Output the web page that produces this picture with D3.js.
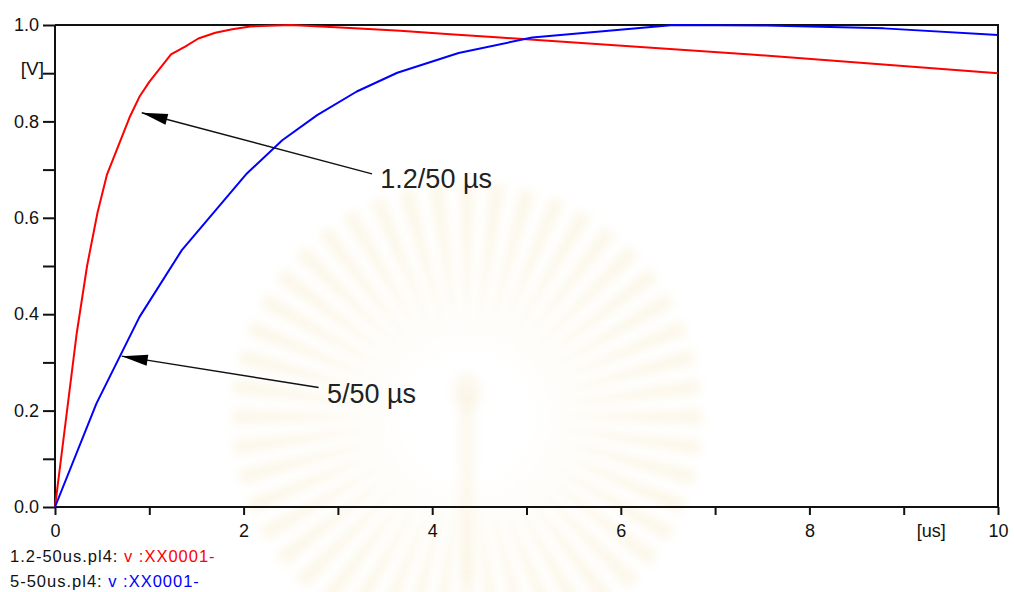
<!DOCTYPE html>
<html>
<head>
<meta charset="utf-8">
<script src="https://cdn.jsdelivr.net/npm/d3@7"></script>
<style>
  html, body { margin: 0; padding: 0; background: #fff; }
  svg { display: block; font-family: "Liberation Sans", Arial, sans-serif; }
</style>
</head>
<body>
<svg id="chart" width="1014" height="592"></svg>
<script>
// Lightning impulse waveforms, time in microseconds, voltage normalised
const redTime  = [0, 0.23, 0.34, 0.45, 0.55, 0.79, 0.895, 1.0, 1.23, 1.38, 1.52, 1.70, 1.88, 2.07, 2.5, 3.13, 3.66, 4.19, 4.72, 7.38, 10];
const redVolt  = [0, 0.36, 0.50, 0.61, 0.689, 0.808, 0.851, 0.882, 0.939, 0.955, 0.972, 0.984, 0.991, 0.997, 1.0, 0.994, 0.988, 0.981, 0.974, 0.939, 0.900];
const blueTime = [0, 0.44, 0.895, 1.345, 2.035, 2.41, 2.78, 3.2, 3.63, 4.28, 5.06, 6.56, 7.55, 8.79, 10];
const blueVolt = [0, 0.215, 0.394, 0.533, 0.692, 0.761, 0.813, 0.862, 0.901, 0.942, 0.974, 1.0, 0.999, 0.993, 0.979];

const yTicks = [0, 0.1, 0.2, 0.3, 0.4, 0.5, 0.6, 0.7, 0.8, 0.9, 1.0];
const yTickLabels = ["0.0", "", "0.2", "", "0.4", "", "0.6", "", "0.8", "[V]", "1.0"];
const xTicks = [0, 1, 2, 3, 4, 5, 6, 7, 8, 9, 10];
const xTickLabels = ["0", "", "2", "", "4", "", "6", "", "8", "[us]", "10"];

const legendFiles = ["1.2-50us.pl4:", "5-50us.pl4:"];
const legendVars  = ["v :XX0001-", "v :XX0001-"];
const seriesColors = ["#ff0000", "#0000ff"];

// Annotation arrows: tip and tail in data units, label at the tail
const annotations = [
  { text: "1.2/50 \u00b5s", tip: [0.92, 0.818], tail: [3.362, 0.691], label: [3.45, 0.6625] },
  { text: "5/50 \u00b5s",   tip: [0.708, 0.313], tail: [2.795, 0.248], label: [2.884, 0.215] }
];

const svg = d3.select("#chart");
const plot = { left: 55, right: 998, top: 25, bottom: 507 };

const x = d3.scaleLinear().domain([0, 10]).range([plot.left, plot.right]);
const y = d3.scaleLinear().domain([0, 1]).range([plot.bottom, plot.top]);

// Faint emblem watermark behind the plot
const defs = svg.append("defs");
defs.append("filter").attr("id", "soft")
  .attr("x", "-50%").attr("y", "-50%").attr("width", "200%").attr("height", "200%")
  .append("feGaussianBlur").attr("stdDeviation", 5);
const wm = svg.append("g").attr("transform", "translate(467,417)")
  .attr("filter", "url(#soft)").attr("opacity", 0.3);
const rayAngles = d3.range(0, 360, 7.5);
wm.selectAll("path.ray").data(rayAngles).join("path")
  .attr("class", "ray")
  .attr("transform", a => `rotate(${a})`)
  .attr("d", "M0,-60 L-8,-235 L8,-235 Z")
  .attr("fill", "#efd48a")
  .attr("opacity", 0.6);
wm.append("circle").attr("r", 60).attr("fill", "#fff");
wm.append("rect").attr("x", -7).attr("y", -25).attr("width", 14).attr("height", 190)
  .attr("fill", "#efd48a").attr("opacity", 0.5);
wm.append("ellipse").attr("cx", 0).attr("cy", -25).attr("rx", 14).attr("ry", 18)
  .attr("fill", "#efd48a").attr("opacity", 0.5);

// Frame (top and right edges)
svg.append("path")
  .attr("d", `M${plot.left},${plot.top} H${plot.right} V${plot.bottom}`)
  .attr("fill", "none").attr("stroke", "#111").attr("stroke-width", 2);

// Axes
const yAxis = d3.axisLeft(y).tickValues(yTicks).tickSize(12).tickPadding(4)
  .tickFormat((d, i) => yTickLabels[i]);
const gy = svg.append("g").attr("transform", `translate(${plot.left},0)`).call(yAxis);

const xAxis = d3.axisBottom(x).tickValues(xTicks).tickSize(8).tickPadding(9)
  .tickFormat((d, i) => xTickLabels[i]);
const gx = svg.append("g").attr("transform", `translate(0,${plot.bottom})`).call(xAxis);

[gy, gx].forEach(g => {
  g.select(".domain").attr("stroke", "#111").attr("stroke-width", 2);
  g.selectAll(".tick line").attr("stroke", "#111").attr("stroke-width", 2);
  g.selectAll(".tick text").attr("fill", "#111")
    .style("font-family", "'Liberation Sans', Arial, sans-serif").style("font-size", "18px");
});
gx.select(".domain").attr("d", `M${plot.left},0H${plot.right}`);
gy.select(".domain").attr("d", `M0,${plot.bottom}V${plot.top}`);
// unit labels sit slightly off their ticks
gy.selectAll(".tick text").filter((d, i) => yTickLabels[i] === "[V]")
  .attr("x", -11).attr("dy", "0.05em").style("font-size", "19px");
gx.selectAll(".tick text").filter((d, i) => xTickLabels[i] === "[us]")
  .attr("dx", 27);

// Curves
const line = d3.line().x(d => x(d[0])).y(d => y(d[1]));
const series = [d3.zip(redTime, redVolt), d3.zip(blueTime, blueVolt)];
svg.selectAll("path.curve").data(series).join("path")
  .attr("class", "curve")
  .attr("d", line)
  .attr("fill", "none")
  .attr("stroke", (d, i) => seriesColors[i])
  .attr("stroke-width", 2)
  .attr("stroke-linejoin", "round");

// Annotation arrows and labels
const ann = svg.selectAll("g.ann").data(annotations).join("g").attr("class", "ann");
ann.append("line")
  .attr("x1", d => x(d.tail[0])).attr("y1", d => y(d.tail[1]))
  .attr("x2", d => x(d.tip[0])).attr("y2", d => y(d.tip[1]))
  .attr("stroke", "#111").attr("stroke-width", 1.4);
ann.append("path")
  .attr("d", d => {
    const tx = x(d.tip[0]), ty = y(d.tip[1]);
    const dx = x(d.tail[0]) - tx, dy = y(d.tail[1]) - ty;
    const len = Math.hypot(dx, dy), ux = dx / len, uy = dy / len;
    const L = 26, W = 5.5;
    const bx = tx + ux * L, by = ty + uy * L;
    return `M${tx},${ty} L${bx - uy * W},${by + ux * W} L${bx + uy * W},${by - ux * W} Z`;
  })
  .attr("fill", "#000");
ann.append("text")
  .attr("x", d => x(d.label[0])).attr("y", d => y(d.label[1]))
  .attr("fill", "#222")
  .style("font-size", "27px")
  .text(d => d.text);

// Legend lines below the axis
const legend = svg.selectAll("text.legend").data(legendFiles).join("text")
  .attr("class", "legend")
  .attr("x", 10)
  .attr("y", (d, i) => 561.7 + i * 25)
  .style("font-size", "16.5px")
  .style("letter-spacing", "1px");
legend.append("tspan").attr("fill", "#111").text(d => d + " ");
legend.append("tspan").attr("fill", (d, i) => seriesColors[i]).text((d, i) => legendVars[i]);
</script>
</body>
</html>
